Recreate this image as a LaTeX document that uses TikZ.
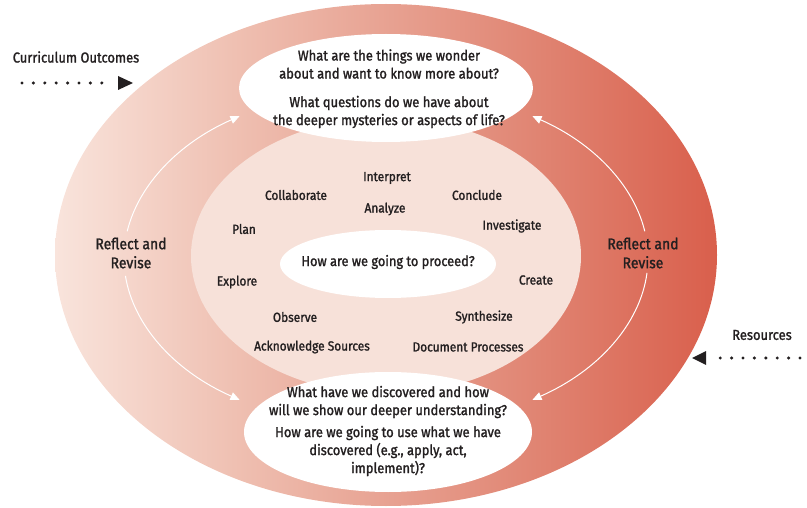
\documentclass[tikz,border=0pt]{standalone}
\usepackage{fontspec}
\setmainfont{Fira Sans}[FakeStretch=0.9, FakeBold=1.4]
\usetikzlibrary{arrows.meta}
\definecolor{ringA}{HTML}{F9E4DC}
\definecolor{ringB}{HTML}{EFC0B2}
\definecolor{ringC}{HTML}{E08472}
\definecolor{ringD}{HTML}{D95F4C}
\definecolor{midpink}{HTML}{F7E1D9}
\definecolor{ink}{HTML}{231F20}
% the path's bounding box spans 25bp--75bp of the shading square
\pgfdeclarehorizontalshading{ringshade}{100bp}{color(0bp)=(ringA); color(25bp)=(ringA); color(38.5bp)=(ringB); color(61.5bp)=(ringC); color(75bp)=(ringD); color(100bp)=(ringD)}
\begin{document}
\begin{tikzpicture}[x=1pt,y=-1pt,
  txt/.style={font=\fontsize{14.4}{18}\selectfont, text=ink, align=center, inner sep=0pt},
  word/.style={font=\fontsize{13.2}{15}\selectfont, text=ink, inner sep=0pt},
  side/.style={font=\fontsize{15.5}{19}\selectfont, text=ink, align=center, inner sep=0pt},
  loop/.style={draw=white, line width=1pt, -{Triangle[length=9pt,width=8pt,fill=white]}},
  feed/.style={line width=3.4pt, line cap=round, dash pattern=on 0pt off 11.4pt, draw=ink},
  tip/.style={fill=ink, draw=none}]
\useasboundingbox (0,0) rectangle (807,508);

% outer ring with horizontal gradient
\shade[shading=ringshade] (386,255) ellipse [x radius=331, y radius=251];
% working ellipse
\fill[midpink] (386,256) ellipse [x radius=195, y radius=138];

% question bubbles
\fill[white] (386,88) ellipse [x radius=147, y radius=54];
\fill[white] (388,432) ellipse [x radius=144, y radius=60];
\fill[white] (388,264) ellipse [x radius=108, y radius=34];
\coordinate (mid) at (386,258);

\node[txt] (q1) at (389,64) {What are the things we wonder\\about and want to know more about?};
\node[txt] (q2) at (389,112) {What questions do we have about\\the deeper mysteries or aspects of life?};
\node[txt] (q3) at (388,402) {What have we discovered and how\\will we show our deeper understanding?};
\node[txt] (q4) at (388,451) {How are we going to use what we have\\discovered (e.g., apply, act,\\implement)?};
\node[txt, font=\fontsize{14.2}{17}\selectfont] (q5) at (388,262) {How are we going to proceed?};

% inquiry activities
\node[word] (w1) at (387,178) {Interpret};
\node[word] (w2) at (296,195) {Collaborate};
\node[word] (w3) at (477,195) {Conclude};
\node[word] (w4) at (385,209) {Analyze};
\node[word] (w5) at (244,229) {Plan};
\node[word] (w6) at (512,226) {Investigate};
\node[word] (w7) at (237,282) {Explore};
\node[word] (w8) at (536,280) {Create};
\node[word] (w9) at (295,317) {Observe};
\node[word] (w10) at (484,317) {Synthesize};
\node[word] (w11) at (312,347) {Acknowledge Sources};
\node[word] (w12) at (468,347) {Document Processes};

% reflect and revise loops
\node[side] (rl) at (131,253) {Reflect and\\Revise};
\node[side] (rr) at (643,253) {Reflect and\\Revise};
\draw[loop] ([shift={(189:262 and 171)}]mid) arc[start angle=189, end angle=236, x radius=262, y radius=171];
\draw[loop] ([shift={(174:262 and 171)}]mid) arc[start angle=174, end angle=124, x radius=262, y radius=171];
\draw[loop] ([shift={(-9:262 and 171)}]mid) arc[start angle=-9, end angle=-56, x radius=262, y radius=171];
\draw[loop] ([shift={(5:262 and 171)}]mid) arc[start angle=5, end angle=56, x radius=262, y radius=171];

% inputs
\node[txt] (co) at (76,57) {Curriculum Outcomes};
\node[txt] (rs) at (762,335) {Resources};
\coordinate (coA) at (22,83);
\coordinate (coB) at (110,83);
\coordinate (rsA) at (800,358);
\coordinate (rsB) at (714,358);
\draw[feed] (coA) -- (coB);
\draw[feed] (rsA) -- (rsB);
\fill[tip] (118,76) -- (133,83) -- (118,90) -- cycle;
\fill[tip] (706,351) -- (692,358) -- (706,365) -- cycle;
\end{tikzpicture}
\end{document}
